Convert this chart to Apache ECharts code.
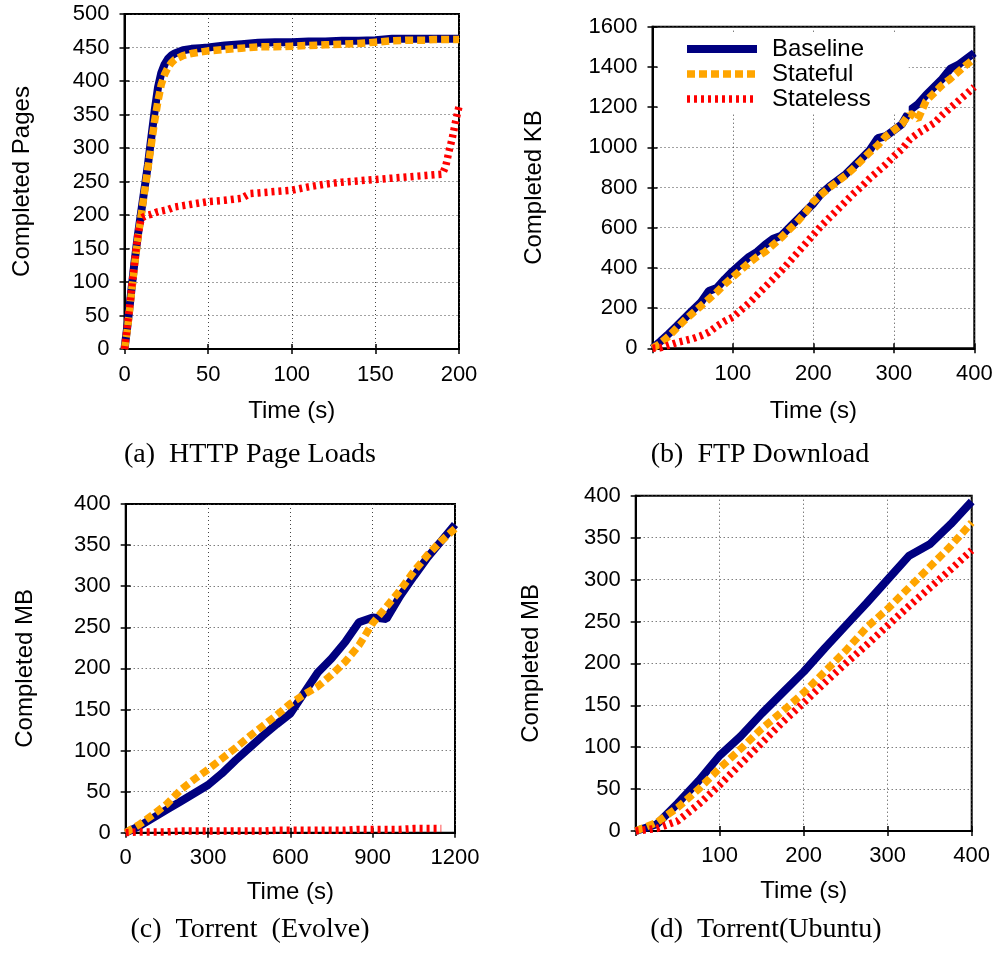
<!DOCTYPE html>
<html>
<head>
<meta charset="utf-8">
<script src="https://cdn.jsdelivr.net/npm/echarts@6/dist/echarts.min.js"></script>
<style>
html,body{margin:0;padding:0;background:#fff;}
#chart{width:1000px;height:958px;}
</style>
</head>
<body>
<div id="chart"></div>
<script>
// ---------- DATA ----------
const seriesNames = ['Baseline', 'Stateful', 'Stateless'];
const seriesColors = ['#000080', '#FFA500', '#FF0000'];

// (a) HTTP Page Loads
const httpTime      = [0, 2, 4, 6, 8, 10, 12, 14, 16, 18, 20, 22, 24, 26, 28, 30, 35, 40, 45, 50, 60, 70, 75, 80, 90, 100, 110, 120, 130, 140, 150, 160, 170, 180, 185, 190, 192, 194, 196, 198, 200];
const httpBaseline  = [0, 40, 85, 130, 170, 205, 240, 275, 315, 355, 390, 412, 425, 433, 438, 441, 446, 448, 449, 450, 453, 455, 456, 457, 458, 458, 459, 459, 460, 460, 461, 463, 463, 463, 463, 463, 463, 463, 463, 463, 463];
const httpStateful  = [0, 35, 80, 125, 165, 200, 235, 270, 305, 340, 370, 395, 410, 420, 427, 432, 438, 441, 443, 445, 447, 449, 450, 451, 451, 452, 453, 454, 455, 456, 458, 460, 461, 461, 462, 462, 462, 462, 462, 462, 462];
const httpStateless = [0, 40, 85, 130, 170, 195, 198, 200, 201, 203, 205, 206, 207, 208, 210, 212, 214, 216, 218, 220, 222, 225, 232, 233, 235, 237, 242, 246, 249, 251, 253, 255, 257, 259, 260, 261, 272, 295, 315, 340, 362];

// (b) FTP Download
const ftpTime      = [0, 10, 20, 30, 40, 50, 60, 70, 80, 90, 100, 110, 120, 130, 140, 150, 160, 170, 180, 190, 200, 210, 220, 230, 240, 250, 260, 270, 280, 290, 300, 310, 320, 330, 340, 350, 360, 370, 380, 390, 400];
const ftpBaseline  = [0, 35, 72, 110, 150, 190, 228, 285, 300, 345, 385, 420, 455, 480, 515, 545, 560, 600, 640, 680, 720, 770, 805, 835, 865, 905, 945, 985, 1045, 1055, 1085, 1115, 1185, 1215, 1260, 1300, 1340, 1390, 1410, 1440, 1470];
const ftpStateful  = [0, 25, 60, 100, 140, 175, 210, 245, 280, 320, 355, 390, 425, 455, 480, 515, 550, 590, 630, 675, 730, 765, 800, 830, 860, 895, 935, 975, 1010, 1055, 1085, 1115, 1170, 1140, 1230, 1270, 1310, 1340, 1375, 1410, 1440];
const ftpStateless = [0, 3, 15, 28, 38, 48, 62, 80, 110, 135, 155, 190, 225, 265, 305, 345, 385, 430, 475, 520, 565, 610, 650, 690, 730, 770, 805, 845, 880, 915, 955, 990, 1040, 1070, 1095, 1120, 1160, 1195, 1230, 1265, 1300];

// (c) Torrent (Evolve)
const evolveTime      = [0, 50, 100, 150, 200, 250, 300, 350, 400, 450, 500, 550, 600, 650, 700, 750, 800, 850, 900, 950, 1000, 1050, 1100, 1150, 1200];
const evolveBaseline  = [0, 8, 18, 28, 38, 48, 58, 72, 88, 103, 118, 132, 145, 170, 195, 212, 232, 256, 262, 260, 288, 312, 335, 355, 375];
const evolveStateful  = [0, 10, 22, 35, 52, 65, 77, 90, 103, 117, 130, 143, 157, 168, 178, 192, 208, 228, 255, 275, 295, 318, 338, 355, 370];
const evolveStateless = [0, 1, 1, 1, 2, 2, 2, 2, 2, 2, 2, 3, 3, 3, 3, 3, 3, 4, 4, 4, 4, 5, 5, 5, null];

// (d) Torrent (Ubuntu)
const ubuntuTime      = [0, 25, 50, 75, 100, 125, 150, 175, 200, 225, 250, 275, 300, 325, 350, 375, 400];
const ubuntuBaseline  = [0, 8, 33, 60, 90, 113, 140, 165, 190, 218, 245, 272, 300, 328, 342, 366, 393];
const ubuntuStateful  = [0, 10, 28, 50, 75, 98, 122, 143, 165, 190, 215, 243, 265, 290, 315, 340, 368];
const ubuntuStateless = [0, 3, 12, 32, 55, 80, 105, 130, 153, 177, 200, 222, 245, 268, 290, 312, 335];

const captions = ['(a)  HTTP Page Loads', '(b)  FTP Download', '(c)  Torrent  (Evolve)', '(d)  Torrent(Ubuntu)'];
const yTitles = ['Completed Pages', 'Completed KB', 'Completed MB', 'Completed MB'];
const xTitle = 'Time (s)';
const xRanges = [[0, 200, 50], [0, 400, 100], [0, 1200, 300], [0, 400, 100]];
const yRanges = [[0, 500, 50], [0, 1600, 200], [0, 400, 50], [0, 400, 50]];
const hideZeroX = [false, true, false, true];

// ---------- LAYOUT ----------
const grids = [
  {left: 124.5, top: 14, width: 334.5, height: 335},
  {left: 652.5, top: 26.7, width: 321.8, height: 321.6},
  {left: 125.7, top: 504, width: 329.3, height: 328.7},
  {left: 635.7, top: 495.7, width: 336, height: 335.3}
];
const yNameGaps = [90, 106, 88, 92];
const xNameGaps = [50, 51, 48, 48];
const xLabelMargins = [15, 15, 14, 14];
const captionPos = [[250, 455], [760, 455], [250, 930], [766, 930]];

const panels = [
  [httpTime, [httpBaseline, httpStateful, httpStateless]],
  [ftpTime, [ftpBaseline, ftpStateful, ftpStateless]],
  [evolveTime, [evolveBaseline, evolveStateful, evolveStateless]],
  [ubuntuTime, [ubuntuBaseline, ubuntuStateful, ubuntuStateless]]
];

const sansFont = 'Liberation Sans, Arial, Helvetica, sans-serif';
const gridLine = {lineStyle: {color: '#444', width: 1, type: [1, 3]}};
const dashes = ['solid', [8, 4], [3, 4]];
const widths = [8, 7.5, 7.5];

const xAxes = [], yAxes = [], series = [];
grids.forEach((g, i) => {
  const [xmin, xmax, xint] = xRanges[i];
  const [ymin, ymax, yint] = yRanges[i];
  xAxes.push({
    type: 'value', gridIndex: i, min: xmin, max: xmax, interval: xint,
    name: xTitle, nameLocation: 'middle', nameGap: xNameGaps[i],
    nameTextStyle: {fontFamily: sansFont, fontSize: 24, color: '#000'},
    axisLine: {show: true, lineStyle: {color: '#000', width: 2}},
    axisTick: {show: true, inside: true, length: 5, lineStyle: {color: '#000', width: 1.5}},
    axisLabel: {fontFamily: sansFont, fontSize: 22, color: '#000', margin: xLabelMargins[i],
      formatter: v => (hideZeroX[i] && v === 0) ? '' : String(v)},
    splitLine: {show: true, ...gridLine}
  });
  yAxes.push({
    type: 'value', gridIndex: i, min: ymin, max: ymax, interval: yint,
    name: yTitles[i], nameLocation: 'middle', nameGap: yNameGaps[i], nameRotate: 90,
    nameTextStyle: {fontFamily: sansFont, fontSize: 24, color: '#000'},
    axisLine: {show: true, lineStyle: {color: '#000', width: 2}},
    axisTick: {show: true, inside: true, length: 5, lineStyle: {color: '#000', width: 1.5}},
    axisLabel: {fontFamily: sansFont, fontSize: 22, color: '#000', margin: 15,
      formatter: v => String(v)},
    splitLine: {show: true, ...gridLine}
  });
  xAxes.push({
    type: 'value', gridIndex: i, position: 'top', min: xmin, max: xmax, interval: xint,
    axisLine: {show: true, lineStyle: {color: '#000', width: 2}},
    axisTick: {show: true, inside: true, length: 5, lineStyle: {color: '#000', width: 1.5}},
    axisLabel: {show: false}, splitLine: {show: false}
  });
  yAxes.push({
    type: 'value', gridIndex: i, position: 'right', min: ymin, max: ymax, interval: yint,
    axisLine: {show: true, lineStyle: {color: '#000', width: 2}},
    axisTick: {show: true, inside: true, length: 5, lineStyle: {color: '#000', width: 1.5}},
    axisLabel: {show: false}, splitLine: {show: false}
  });
  const [time, vals] = panels[i];
  [0, 1, 2].forEach(k => {
    series.push({
      type: 'line', name: seriesNames[k],
      xAxisIndex: i * 2, yAxisIndex: i * 2,
      data: time.map((t, j) => [t, vals[k][j]]),
      showSymbol: false, symbol: 'none', smooth: false,
      connectNulls: false, clip: true,
      lineStyle: {color: seriesColors[k], width: widths[k], type: dashes[k], cap: 'butt'},
      itemStyle: {color: seriesColors[k]},
      z: 2 + k, animation: false
    });
  });
});

const graphics = captions.map((c, i) => ({
  type: 'text', x: captionPos[i][0], y: captionPos[i][1],
  style: {text: c, font: '28px "Liberation Serif", "Times New Roman", serif',
    fill: '#000', textAlign: 'center', textVerticalAlign: 'middle'}
}));

const option = {
  animation: false,
  backgroundColor: '#fff',
  grid: grids.map(g => ({...g, show: true, borderColor: '#000', borderWidth: 2, backgroundColor: 'transparent'})),
  xAxis: xAxes,
  yAxis: yAxes,
  series: series,
  legend: {
    data: seriesNames.map((n, k) => ({
      name: n,
      itemStyle: {opacity: 0},
      lineStyle: {width: widths[k], type: dashes[k], color: seriesColors[k], cap: 'butt'}
    })),
    orient: 'vertical', left: 658, top: 33,
    itemWidth: 70, itemHeight: 25, itemGap: 0,
    backgroundColor: '#fff',
    padding: [3.5, 38, 1, 25],
    textStyle: {fontFamily: sansFont, fontSize: 24, lineHeight: 25, color: '#000', padding: [0, 0, 0, 10]},
    selectedMode: false
  },
  graphic: graphics
};

const chart = echarts.init(document.getElementById('chart'), null, {renderer: 'canvas'});
chart.setOption(option);
</script>
</body>
</html>
